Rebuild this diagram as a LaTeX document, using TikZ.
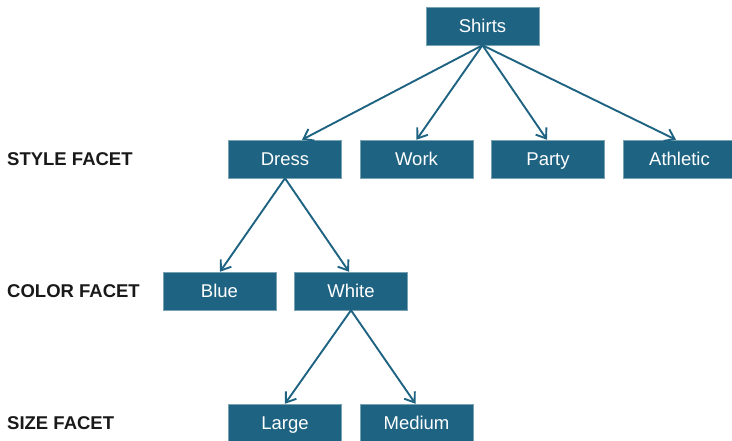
\documentclass[tikz,border=0pt]{standalone}
\usepackage{fontspec}
\setmainfont{Liberation Sans}
\usetikzlibrary{arrows.meta,calc}
\definecolor{boxblue}{RGB}{30,99,130}
\definecolor{labelblack}{RGB}{25,25,25}
\begin{document}
\begin{tikzpicture}[x=1pt,y=-1pt,
  facetbox/.style={fill=boxblue, draw=boxblue!60!white, line width=0.5pt, text=white, minimum width=113pt, minimum height=38pt, inner sep=0pt, text height=13.2pt, text depth=0pt, font=\fontsize{18.5}{20}\selectfont},
  facetlabel/.style={anchor=west, inner sep=0pt, text=labelblack, text height=13.2pt, text depth=0pt, font=\bfseries\fontsize{18.5}{20}\selectfont},
  link/.style={draw=boxblue, line width=1.9pt, -{Straight Barb[length=9pt,width=13pt,line width=1.9pt]}}]
\useasboundingbox (0,0) rectangle (732,440);
\node[facetbox] (shirts) at (482.5,26) {Shirts};
\node[facetbox] (dress) at (285,159) {Dress};
\node[facetbox] (work) at (416.5,159) {Work};
\node[facetbox] (party) at (548,159) {Party};
\node[facetbox] (athletic) at (679.5,159) {Athletic};
\node[facetbox] (blue) at (219.5,291) {Blue};
\node[facetbox] (white) at (351,291) {White};
\node[facetbox] (large) at (285,423) {Large};
\node[facetbox] (medium) at (416.5,423) {Medium};
\node[facetlabel] (style) at (7,159) {STYLE FACET};
\node[facetlabel] (color) at (7,291) {COLOR FACET};
\node[facetlabel] (size) at (7,423) {SIZE FACET};
\draw[link] (shirts.south) -- ($(dress.north)+(17,0)$);
\draw[link] (shirts.south) -- (work.north);
\draw[link] (shirts.south) -- ($(party.north)+(-1,0)$);
\draw[link] (shirts.south) -- ($(athletic.north)+(-3.5,0)$);
\draw[link] (dress.south) -- ($(blue.north)+(0.5,0)$);
\draw[link] (dress.south) -- ($(white.north)+(-2,0)$);
\draw[link] (white.south) -- (large.north);
\draw[link] (white.south) -- ($(medium.north)+(-1,0)$);
\end{tikzpicture}
\end{document}
